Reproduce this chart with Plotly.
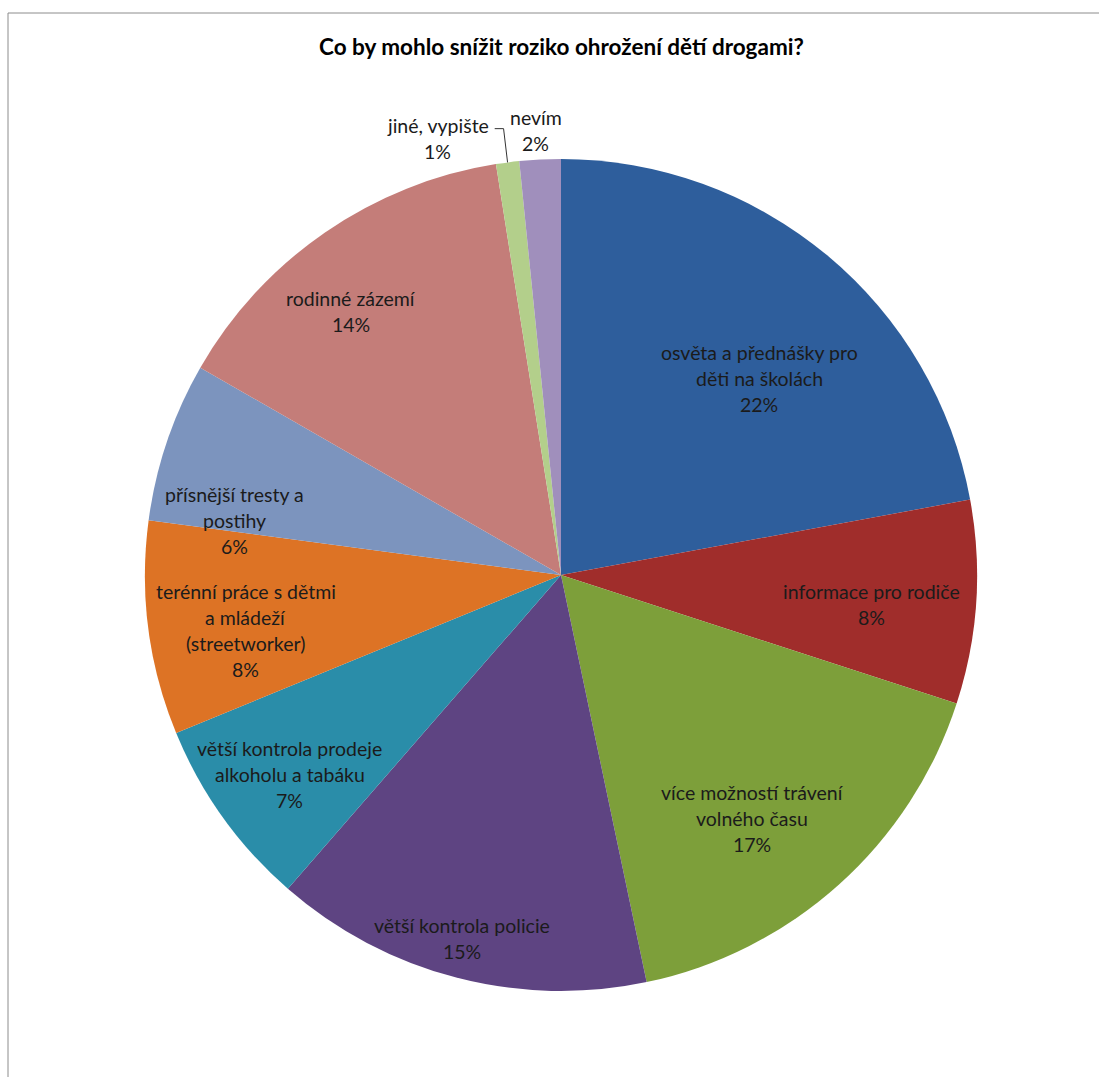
import math
import plotly.graph_objects as go

# ---------------- data ----------------
title_text = "Co by mohlo snížit roziko ohrožení dětí drogami?"
categories = [
    "osvěta a přednášky pro děti na školách",
    "informace pro rodiče",
    "více možností trávení volného času",
    "větší kontrola policie",
    "větší kontrola prodeje alkoholu a tabáku",
    "terénní práce s dětmi a mládeží (streetworker)",
    "přísnější tresty a postihy",
    "rodinné zázemí",
    "jiné, vypište",
    "nevím",
]
label_lines = [
    ["osvěta a přednášky pro", "děti na školách"],
    ["informace pro rodiče"],
    ["více možností trávení", "volného času"],
    ["větší kontrola policie"],
    ["větší kontrola prodeje", "alkoholu a tabáku"],
    ["terénní práce s dětmi", "a mládeží", "(streetworker)"],
    ["přísnější tresty a", "postihy"],
    ["rodinné zázemí"],
    ["jiné, vypište"],
    ["nevím"],
]
values = [22.1, 7.9, 16.7, 14.7, 7.4, 8.3, 6.2, 14.2, 0.9, 1.6]

# ---------------- style ----------------
colors = ["#2E5E9C", "#A02D2B", "#7D9F3A", "#5E4482", "#2A8DA9",
          "#DD7325", "#7C94BE", "#C47D79", "#B3CF8B", "#A08FBC"]
label_rfrac = [0.67, 0.75, 0.745, 0.905, 0.81, 0.77, 0.795, 0.81, 1.09, 1.07]
label_angoff = [5.5, 1.7, 3.8, 0.7, -0.7, -2.6, -9.3, -3.9, -8.4, -0.4]

W, H = 1099, 1077
CX, CY, R = 561, 575, 416
FONT = "Lato"
FS = 19.5
LINE_H = 26


def px2paper(x, y):
    return x / W, 1 - y / H


dx0, dy1 = px2paper(CX - R, CY - R)
dx1, dy0 = px2paper(CX + R, CY + R)

fig = go.Figure(go.Pie(
    labels=categories,
    values=values,
    sort=False,
    direction="clockwise",
    rotation=0,
    marker=dict(colors=colors, line=dict(width=0)),
    textinfo="none",
    hoverinfo="label+percent",
    showlegend=False,
    domain=dict(x=[dx0, dx1], y=[dy0, dy1]),
))

annotations = []
shapes = []
total = sum(values)
cum = 0.0
for i, v in enumerate(values):
    mid = (cum + v / 2) / total * 360.0
    cum += v
    ang = math.radians(mid + label_angoff[i])
    lx = CX + label_rfrac[i] * R * math.sin(ang)
    ly = CY - label_rfrac[i] * R * math.cos(ang)
    pct = f"{round(v / total * 100)}%"
    lines = label_lines[i] + [pct]
    n = len(lines)
    for j, t in enumerate(lines):
        yy = ly + (j - (n - 1) / 2) * LINE_H
        px_, py_ = px2paper(lx, yy)
        annotations.append(dict(
            x=px_, y=py_, xref="paper", yref="paper", text=t, showarrow=False,
            xanchor="center", yanchor="middle",
            font=dict(family=FONT, size=FS, color="#1b1b1b"),
        ))
    if categories[i].startswith("jiné"):
        # leader line from slice edge to label
        ea = math.radians(mid)
        ex = CX + R * math.sin(ea)
        ey = CY - R * math.cos(ea)
        ty = ly - (n - 1) / 2 * LINE_H + 3
        p = [px2paper(ex, ey), px2paper(ex - 4, ty), px2paper(lx + 57, ty)]
        shapes.append(dict(
            type="path", xref="paper", yref="paper",
            path=f"M {p[0][0]} {p[0][1]} L {p[1][0]} {p[1][1]} L {p[2][0]} {p[2][1]}",
            line=dict(color="#333333", width=1),
        ))

# title
tx, ty = px2paper(561, 47)
annotations.append(dict(
    x=tx, y=ty, xref="paper", yref="paper", text=f"<b>{title_text}</b>",
    showarrow=False, xanchor="center", yanchor="middle",
    font=dict(family=FONT, size=22.5, color="#000000"),
))

# outer chart frame
fx0, fy0 = px2paper(8, 13)
fx1, fy1 = px2paper(W + 20, H + 20)
shapes.append(dict(type="rect", xref="paper", yref="paper",
                   x0=fx0, y0=fy1, x1=fx1, y1=fy0,
                   line=dict(color="#8c8c8c", width=1)))

fig.update_layout(
    width=W, height=H,
    margin=dict(l=0, r=0, t=0, b=0),
    paper_bgcolor="white",
    plot_bgcolor="white",
    annotations=annotations,
    shapes=shapes,
)

fig.write_html("out.html", config={"displayModeBar": False},
               post_script="document.body.style.margin='0';")
